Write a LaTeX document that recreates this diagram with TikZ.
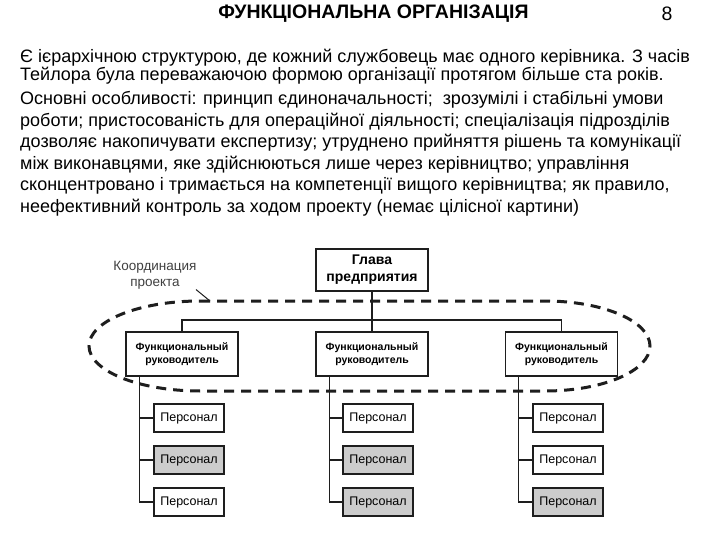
\documentclass[tikz,border=0pt]{standalone}
\usepackage{fontspec}
\setmainfont{Liberation Sans}
\usetikzlibrary{positioning, calc}
\definecolor{boxgray}{RGB}{204,204,204}
\definecolor{inkgray}{RGB}{30,30,30}

\begin{document}
\begin{tikzpicture}[x=1pt, y=-1pt,
    txtline/.style={anchor=base west, inner sep=0pt, font=\fontsize{18}{18}\selectfont},
    orgbox/.style={draw=inkgray, line width=1.4pt, fill=white, inner sep=0pt, align=center},
    persbox/.style={orgbox, minimum width=70pt, minimum height=28pt, font=\fontsize{12.5}{13}\selectfont},
    mgrbox/.style={orgbox, minimum width=112pt, minimum height=44pt, font=\fontsize{10.5}{13.5}\selectfont\bfseries},
    link/.style={draw=inkgray, line width=1.2pt}]
        % Page
        \fill[white] (0,0) rectangle (720,540);
        \useasboundingbox (0,0) rectangle (720,540);

        % Title
        \node[font=\fontsize{19.5}{20}\selectfont\bfseries] (title) at (373.5,14) {ФУНКЦІОНАЛЬНА ОРГАНІЗАЦІЯ};
        \node[font=\fontsize{19.5}{20}\selectfont] (pagenum) at (667,14) {8};

        % Text
        \node[txtline] (l1) at (20,62.5) {Є ієрархічною структурою, де кожний службовець має одного керівника. З часів};
        \node[txtline] (l2) at (20,81) {Тейлора була переважаючою формою організації протягом більше ста років.};
        \node[txtline] (l3) at (20,105) {Основні особливості: принцип єдиноначальності; \ зрозумілі і стабільні умови};
        \node[txtline] (l4) at (20,126.5) {роботи; пристосованість для операційної діяльності; спеціалізація підрозділів};
        \node[txtline] (l5) at (20,148) {дозволяє накопичувати експертизу; утруднено прийняття рішень та комунікації};
        \node[txtline] (l6) at (20,169.5) {між виконавцями, яке здійснюються лише через керівництво; управління};
        \node[txtline] (l7) at (20,191) {сконцентровано і тримається на компетенції вищого керівництва; як правило,};
        \node[txtline] (l8) at (20,212) {неефективний контроль за ходом проекту (немає цілісної картини)};

        % Coordination zone
        \draw[inkgray, line width=3pt, dash pattern=on 10pt off 7pt]
          (200,301) -- (545,301) arc[start angle=-90, end angle=90, x radius=105, y radius=45]
          -- (200,391) arc[start angle=90, end angle=270, x radius=111, y radius=45];
        \coordinate (zonetop) at (210,301);
        \node[font=\fontsize{13.5}{16}\selectfont, text=inkgray!85, align=center] (zonelbl) at (155,275) {Координация\\проекта};
        \draw[inkgray, line width=1pt] ([shift={(-4,-3)}]zonelbl.south east) -- (zonetop);

        % Head and managers
        \node[orgbox, minimum width=112pt, minimum height=42pt, font=\fontsize{14}{17}\selectfont\bfseries] (head) at (372,270) {Глава\\предприятия};
        \node[mgrbox] (fr1) at (182,354) {Функциональный\\руководитель};
        \node[mgrbox] (fr2) at (372,354) {Функциональный\\руководитель};
        \node[mgrbox] (fr3) at (561.5,354) {Функциональный\\руководитель};
        \coordinate (bus) at (372,320);
        \draw[link] (head) -- (fr2);
        \draw[link] (fr1.north) |- (bus) -| (fr3.north);

        % Staff
        \foreach \c/\x/\fa/\fb/\fc in {1/189/white/boxgray/white, 2/378/white/boxgray/boxgray, 3/568/white/white/boxgray} {
          \node[persbox, fill=\fa] (p\c1) at (\x,418) {Персонал};
          \node[persbox, fill=\fb] (p\c2) at (\x,460) {Персонал};
          \node[persbox, fill=\fc] (p\c3) at (\x,502) {Персонал};
          \coordinate (t\c) at ($(fr\c.south west)+(14,0)$);
          \draw[link] (t\c) |- (p\c3.west);
          \draw[link] (p\c1.west) -- (p\c1.west -| t\c);
          \draw[link] (p\c2.west) -- (p\c2.west -| t\c);
        }
      \end{tikzpicture}
\end{document}
